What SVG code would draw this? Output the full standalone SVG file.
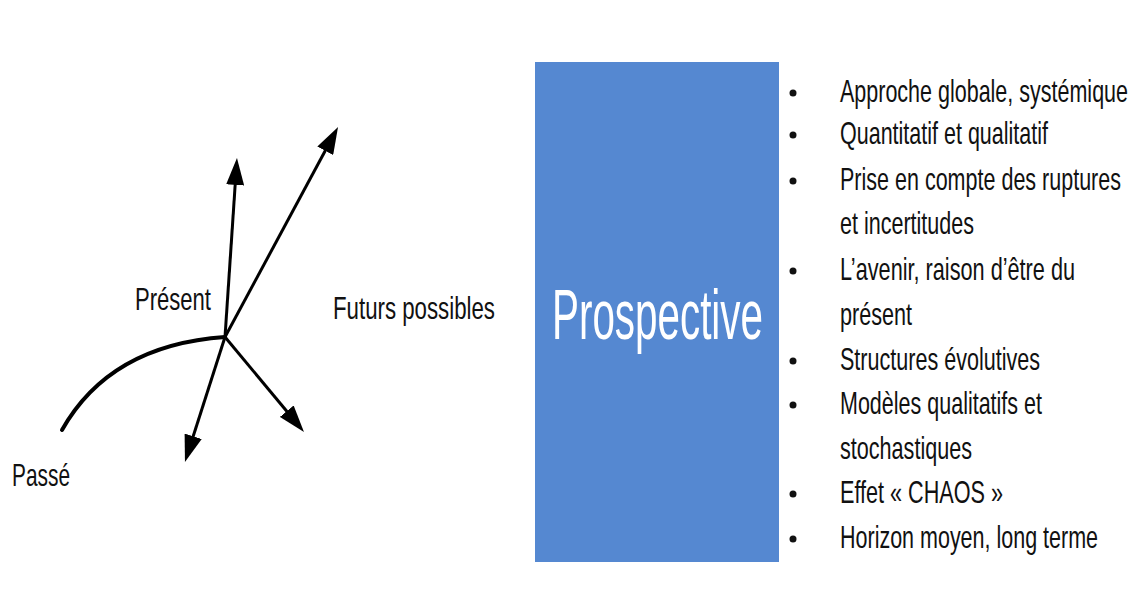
<svg xmlns="http://www.w3.org/2000/svg" width="1148" height="589" viewBox="0 0 1148 589">
<style>
.lbl{font-family:"Liberation Sans",Arial,sans-serif;font-size:32px;fill:#111}
.item{font-family:"Liberation Sans",Arial,sans-serif;font-size:32px;fill:#111}
.arrow{stroke:#000;stroke-width:3;fill:none}
.bullet{fill:#111}
</style>
<defs>
<marker id="ah" markerWidth="9" markerHeight="6" refX="5.67" refY="3" orient="auto" markerUnits="strokeWidth">
<path d="M0,0 L9,3 L0,6 Z" fill="#000"/>
</marker>
</defs>
<rect width="1148" height="589" fill="#fff"/>
<g id="connectors">
<path d="M62,430 Q110,345 225,337" stroke="#000" stroke-width="4" fill="none" stroke-linecap="round"/>
<line class="arrow" x1="225" y1="337" x2="236.3" y2="168" marker-end="url(#ah)"/>
<line class="arrow" x1="225" y1="337" x2="333.3" y2="135.8" marker-end="url(#ah)"/>
<line class="arrow" x1="225" y1="337" x2="188" y2="452.5" marker-end="url(#ah)"/>
<line class="arrow" x1="225" y1="337" x2="297.6" y2="424.3" marker-end="url(#ah)"/>
</g>
<g id="present"><text class="lbl" x="135" y="310" textLength="76" lengthAdjust="spacingAndGlyphs">Présent</text></g>
<g id="futurs"><text class="lbl" x="333" y="319" textLength="162" lengthAdjust="spacingAndGlyphs">Futurs possibles</text></g>
<g id="passe"><text class="lbl" x="12" y="486" textLength="58" lengthAdjust="spacingAndGlyphs">Passé</text></g>
<g id="prospective">
<rect x="535" y="62" width="244" height="500" fill="#5588D1"/>
<text x="552" y="339" font-family="'Liberation Sans',Arial,sans-serif" font-size="70" fill="#fff" textLength="211" lengthAdjust="spacingAndGlyphs">Prospective</text>
</g>
<g id="list">
<circle class="bullet" cx="793" cy="93" r="3.5"/>
<circle class="bullet" cx="793" cy="135" r="3.5"/>
<circle class="bullet" cx="793" cy="181" r="3.5"/>
<circle class="bullet" cx="793" cy="271" r="3.5"/>
<circle class="bullet" cx="793" cy="361" r="3.5"/>
<circle class="bullet" cx="793" cy="405" r="3.5"/>
<circle class="bullet" cx="793" cy="494" r="3.5"/>
<circle class="bullet" cx="793" cy="539" r="3.5"/>
<text class="item" x="840" y="102" textLength="288" lengthAdjust="spacingAndGlyphs">Approche globale, systémique</text>
<text class="item" x="840" y="144" textLength="208" lengthAdjust="spacingAndGlyphs">Quantitatif et qualitatif</text>
<text class="item" x="840" y="190" textLength="281" lengthAdjust="spacingAndGlyphs">Prise en compte des ruptures</text>
<text class="item" x="840" y="234" textLength="134" lengthAdjust="spacingAndGlyphs">et incertitudes</text>
<text class="item" x="840" y="280" textLength="235" lengthAdjust="spacingAndGlyphs">L’avenir, raison d’être du</text>
<text class="item" x="840" y="325" textLength="72" lengthAdjust="spacingAndGlyphs">présent</text>
<text class="item" x="840" y="370" textLength="200" lengthAdjust="spacingAndGlyphs">Structures évolutives</text>
<text class="item" x="840" y="414" textLength="202" lengthAdjust="spacingAndGlyphs">Modèles qualitatifs et</text>
<text class="item" x="840" y="459" textLength="132" lengthAdjust="spacingAndGlyphs">stochastiques</text>
<text class="item" x="840" y="503" textLength="163" lengthAdjust="spacingAndGlyphs">Effet « CHAOS »</text>
<text class="item" x="840" y="548" textLength="258" lengthAdjust="spacingAndGlyphs">Horizon moyen, long terme</text>
</g>
</svg>
